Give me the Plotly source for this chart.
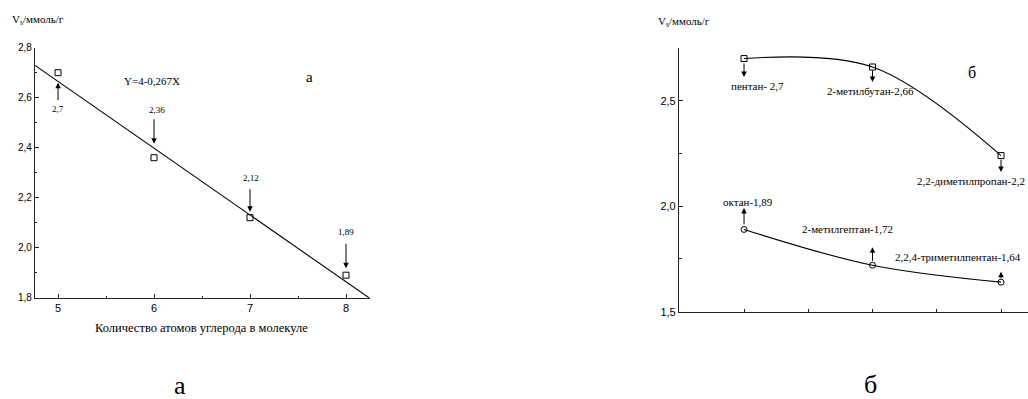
import plotly.graph_objects as go

# ---- data: panel a ----
carbon_atoms = [5, 6, 7, 8]
vs_a = [2.70, 2.36, 2.12, 1.89]
vs_a_labels = ["2,7", "2,36", "2,12", "1,89"]
fit_x = [4.76, 8.25]
fit_y = [2.729, 1.797]
fit_text = "Y=4-0,267X"

# ---- data: panel б ----
pos_b = [1, 2, 3]
vs_c5 = [2.70, 2.66, 2.24]
c5_labels = ["пентан- 2,7", "2-метилбутан-2,66", "2,2-диметилпропан-2,2"]
vs_c8 = [1.89, 1.72, 1.64]
c8_labels = ["октан-1,89", "2-метилгептан-1,72", "2,2,4-триметилпентан-1,64"]

SERIF = "Liberation Serif, DejaVu Serif, serif"
SANS = "Liberation Sans"
BLK = "#000000"
AX = "#222222"

fig = go.Figure()

fig.add_trace(go.Scatter(x=carbon_atoms, y=vs_a, mode="markers",
                         marker=dict(symbol="square-open", size=6, color=BLK, line=dict(width=1)),
                         xaxis="x", yaxis="y", showlegend=False))
fig.add_trace(go.Scatter(x=fit_x, y=fit_y, mode="lines",
                         line=dict(color=BLK, width=1.1),
                         xaxis="x", yaxis="y", showlegend=False))

fig.add_trace(go.Scatter(x=pos_b, y=vs_c5, mode="lines+markers",
                         line=dict(color=BLK, width=1.1, shape="spline", smoothing=1.0),
                         marker=dict(symbol="square-open", size=6, color=BLK, line=dict(width=1)),
                         xaxis="x2", yaxis="y2", showlegend=False))
fig.add_trace(go.Scatter(x=pos_b, y=vs_c8, mode="lines+markers",
                         line=dict(color=BLK, width=1.1, shape="spline", smoothing=1.0),
                         marker=dict(symbol="circle-open", size=6, color=BLK, line=dict(width=1)),
                         xaxis="x2", yaxis="y2", showlegend=False))

ann = []

def arrow(xref, yref, x, y, head_shift, tail_len):
    # head_shift: pixels from point to arrow head (+ up); tail_len: pixels of tail relative to head (+ down)
    ann.append(dict(xref=xref, yref=yref, x=x, y=y, yshift=head_shift, text="",
                    showarrow=True, ax=0, ay=tail_len, arrowhead=2, arrowsize=1.1,
                    arrowwidth=1, arrowcolor=BLK, standoff=0, startstandoff=0))

def label(xref, yref, x, y, text, xs, ys, size):
    ann.append(dict(xref=xref, yref=yref, x=x, y=y, xshift=xs, yshift=ys, text=text,
                    showarrow=False, xanchor="center", yanchor="middle",
                    font=dict(family=SERIF, size=size, color=BLK)))

# panel a arrows / labels
arrow("x", "y", carbon_atoms[0], vs_a[0], -10, 19)
label("x", "y", carbon_atoms[0], vs_a[0], vs_a_labels[0], 0, -36, 9)
arrow("x", "y", carbon_atoms[1], vs_a[1], 14, -26)
label("x", "y", carbon_atoms[1], vs_a[1], vs_a_labels[1], 3, 48, 9)
arrow("x", "y", carbon_atoms[2], vs_a[2], 6, -24)
label("x", "y", carbon_atoms[2], vs_a[2], vs_a_labels[2], 1, 40, 9)
arrow("x", "y", carbon_atoms[3], vs_a[3], 7, -26)
label("x", "y", carbon_atoms[3], vs_a[3], vs_a_labels[3], 0, 43, 9)

# panel б arrows / labels (upper)
arrow("x2", "y2", pos_b[0], vs_c5[0], -18.5, -15)
label("x2", "y2", pos_b[0], vs_c5[0], c5_labels[0], 13.5, -27.5, 11)
arrow("x2", "y2", pos_b[1], vs_c5[1], -15, -13)
label("x2", "y2", pos_b[1], vs_c5[1], c5_labels[1], -2, -24.5, 11)
arrow("x2", "y2", pos_b[2], vs_c5[2], -16.5, -14)
label("x2", "y2", pos_b[2], vs_c5[2], c5_labels[2], -30, -25, 11)
# lower
arrow("x2", "y2", pos_b[0], vs_c8[0], 21.5, 18)
label("x2", "y2", pos_b[0], vs_c8[0], c8_labels[0], 4, 27, 11)
arrow("x2", "y2", pos_b[1], vs_c8[1], 18, 15)
label("x2", "y2", pos_b[1], vs_c8[1], c8_labels[1], -25, 36, 11)
arrow("x2", "y2", pos_b[2], vs_c8[2], 10.5, 8)
label("x2", "y2", pos_b[2], vs_c8[2], c8_labels[2], -43, 25.5, 11)

# free texts
def free(x, y, text, size, anchor="center"):
    ann.append(dict(xref="paper", yref="paper", x=x/1028, y=1-y/399, text=text, showarrow=False,
                    xanchor=anchor, yanchor="middle", font=dict(family=SERIF, size=size, color=BLK)))

free(152, 81, fit_text, 11)
free(309, 77, "а", 15)
free(972, 72, "б", 16)
free(10, 20, "V<sub>s</sub>/ммоль/г", 11, "left")
free(656, 22, "V<sub>s</sub>/ммоль/г", 11, "left")
free(201, 328, "Количество атомов углерода в молекуле", 12.5)
free(180, 385, "а", 26)
free(870, 384, "б", 26)

base = dict(showline=True, linecolor=AX, linewidth=1.2, ticks="inside",
            tickcolor=AX, tickwidth=1, showgrid=False, zeroline=False, automargin=False)

fig.update_layout(
    width=1028, height=399, margin=dict(l=0, r=0, t=0, b=0, autoexpand=False),
    paper_bgcolor="white", plot_bgcolor="white", separators=", ",
    xaxis=dict(domain=[35/1028, 370/1028], range=[4.76, 8.25], anchor="y",
               tickvals=carbon_atoms, ticklen=4,
               minor=dict(dtick=0.5, tick0=5, ticks="inside", ticklen=2, tickcolor=AX),
               tickfont=dict(family=SANS, size=11, color=BLK), **base),
    yaxis=dict(domain=[1-297.7/399, 1-47.7/399], range=[1.8, 2.8], anchor="x",
               dtick=0.2, tick0=1.8, tickformat=".1f", ticklen=4,
               minor=dict(dtick=0.1, ticks="inside", ticklen=2, tickcolor=AX),
               tickfont=dict(family=SANS, size=10, color=BLK), **base),
    xaxis2=dict(domain=[679/1028, 1.0], range=[0.494, 3.21], anchor="y2",
                dtick=0.5, tick0=1, ticklen=3, showticklabels=False, **base),
    yaxis2=dict(domain=[1-311.7/399, 1-48/399], range=[1.5, 2.75], anchor="x2",
                dtick=0.5, tick0=1.5, tickformat=".1f", ticklen=4,
                minor=dict(dtick=0.25, ticks="inside", ticklen=3, tickcolor=AX),
                tickfont=dict(family=SANS, size=11, color=BLK), **base),
    annotations=ann,
)

fig.write_html("out.html", config={"displayModeBar": False},
               post_script="document.body.style.margin='0px';document.body.style.overflow='hidden';")
